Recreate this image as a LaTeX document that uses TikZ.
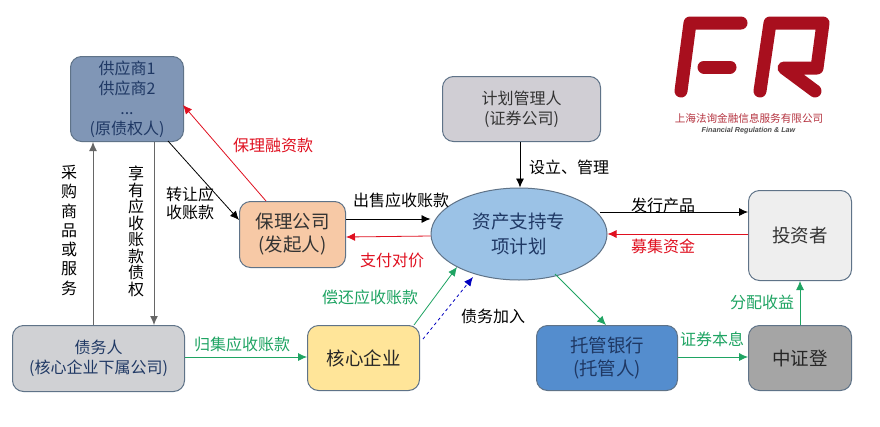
\documentclass[tikz,border=0pt]{standalone}
\usepackage{fontspec}
\setmainfont{Noto Sans CJK SC}
\newfontfamily\latinf{Liberation Sans}
\usetikzlibrary{arrows.meta,shapes.geometric}
\definecolor{frred}{HTML}{A80F1E}
\definecolor{edgeg}{HTML}{5F7388}
\definecolor{greenc}{HTML}{1FA463}
\definecolor{redc}{HTML}{E01020}
\definecolor{txtb}{HTML}{1F3864}
\tikzset{
  x=1pt,y=-1pt,
  bx/.style={draw=edgeg,line width=1pt,rounded corners=11pt,align=center,inner sep=0pt,anchor=north west},
  tl/.style={font=\fontsize{16}{18}\selectfont,inner sep=0pt,align=center},
  vla/.style={font=\fontsize{16}{19.3}\selectfont,inner sep=0pt,align=center,text width=17pt},
  vlb/.style={font=\fontsize{16}{16.5}\selectfont,inner sep=0pt,align=center,text width=17pt},
  blk/.style={-{Latex[length=9pt,width=8pt]},line width=0.8pt,black},
  gry/.style={-{Latex[length=9pt,width=8pt]},line width=1pt,black!60},
  redl/.style={-{Latex[length=9pt,width=8pt]},line width=0.8pt,redc},
  grn/.style={-{Latex[length=9pt,width=8pt]},line width=0.8pt,greenc},
  logo/.style={draw=frred,line width=13pt,line cap=round,line join=round}
}
\begin{document}
\begin{tikzpicture}
\useasboundingbox (0,0) rectangle (880,426);
\fill[white] (0,0) rectangle (880,426);
% nodes
\node[bx,minimum width=113pt,minimum height=85pt,fill={rgb,255:red,128;green,150;blue,182},text=txtb,font=\fontsize{16}{20}\selectfont] (gys) at (70,56) {供应商1\\供应商2\\...\\(原债权人)};
\node[bx,minimum width=106pt,minimum height=66pt,fill={rgb,255:red,247;green,201;blue,166},text=black!80,font=\fontsize{18.5}{23}\selectfont] (bl) at (239,201) {保理公司\\(发起人)};
\node[draw=edgeg,line width=1pt,ellipse,minimum width=176pt,minimum height=92pt,inner sep=0pt,align=center,fill={rgb,255:red,155;green,194;blue,230},text=txtb,font=\fontsize{18.5}{25}\selectfont] (zc) at (519,234) {资产支持专\\项计划};
\node[bx,minimum width=158pt,minimum height=65pt,fill={rgb,255:red,208;green,206;blue,212},text=black!80,font=\fontsize{16}{20}\selectfont] (jh) at (442,76) {计划管理人\\(证券公司)};
\node[bx,minimum width=103pt,minimum height=90pt,fill={rgb,255:red,238;green,238;blue,238},text=black!80,font=\fontsize{18.5}{23}\selectfont] (tz) at (748,190) {投资者};
\node[bx,minimum width=172pt,minimum height=66pt,fill={rgb,255:red,208;green,209;blue,212},text=txtb,font=\fontsize{16}{20}\selectfont] (zw) at (12,325) {债务人\\(核心企业下属公司)};
\node[bx,minimum width=112pt,minimum height=65pt,fill={rgb,255:red,255;green,229;blue,153},text=black!85,font=\fontsize{18.5}{23}\selectfont] (hx) at (307,325) {核心企业};
\node[bx,minimum width=141pt,minimum height=65pt,fill={rgb,255:red,84;green,141;blue,206},text=txtb,font=\fontsize{18.5}{23}\selectfont] (tg) at (536,325) {托管银行\\(托管人)};
\node[bx,minimum width=103pt,minimum height=65pt,fill={rgb,255:red,165;green,165;blue,165},text=black!85,font=\fontsize{18.5}{23}\selectfont] (zz) at (748,325) {中证登};
% connectors
\draw[gry] (zw.north -| 93,0) -- (gys.south -| 93,0);
\draw[gry] (gys.south -| 154,0) -- (zw.north -| 154,0);
\draw[blk] (168,141) -- (bl.west |- 0,220);
\draw[redl] (bl.north -| 266,0) -- (183,105);
\draw[blk] (bl.east |- 0,219) -- (zc.west |- 0,219);
\draw[redl] (zc.west |- 0,236) -- (bl.east |- 0,237);
\draw[blk] (jh.south -| 520,0) -- (zc.north -| 520,0);
\draw[blk] (600,212) -- (tz.west |- 0,212);
\draw[redl] (tz.west |- 0,234) -- (zc.east |- 0,234);
\draw[grn] (zw.east |- 0,357) -- (hx.west |- 0,357);
\draw[grn] (hx.north -| 414,0) -- (457,267);
\draw[-{Latex[length=9pt,width=8pt]},line width=0.8pt,dashed,blue!75!black] (423,339) -- (473,277);
\draw[grn] (555,274) -- (tg.north -| 606,0);
\draw[grn] (tg.east |- 0,357) -- (zz.west |- 0,357);
\draw[grn] (zz.north -| 800,0) -- (tz.south -| 800,0);
% labels
\node[vla,anchor=north] (l1) at (69,165) {采\\购\\商\\品\\或\\服\\务};
\node[vlb,anchor=north] (l2) at (136,166) {享\\有\\应\\收\\账\\款\\债\\权};
\node[tl,anchor=north west] (l3) at (166,187) {转让应\\收账款};
\node[tl,text=redc] (l4) at (273,145) {保理融资款};
\node[tl] (l5) at (401,200) {出售应收账款};
\node[tl,text=redc] (l6) at (392,260) {支付对价};
\node[tl] (l7) at (569,167) {设立、管理};
\node[tl] (l8) at (663,205) {发行产品};
\node[tl,text=redc] (l9) at (663,246) {募集资金};
\node[tl,text=greenc] (l10) at (242,344) {归集应收账款};
\node[tl,text=greenc] (l11) at (370,297) {偿还应收账款};
\node[tl] (l12) at (493,316) {债务加入};
\node[tl,text=greenc] (l13) at (712,339) {证券本息};
\node[tl,text=greenc] (l14) at (762,302) {分配收益};
% logo
\draw[logo] (681,91) -- (690,23) -- (741,23);
\draw[logo] (704,67) -- (730,67);
\draw[logo] (760,91) -- (770,23) -- (823,23) -- (817,68) -- (784,68) -- (815,91);
\node[inner sep=0pt,text=frred!85,font=\fontsize{10.6}{12}\selectfont] (lg1) at (749,118) {上海法询金融信息服务有限公司};
\node[inner sep=0pt,text=black!70,font=\latinf\itshape\bfseries\fontsize{7.2}{8}\selectfont] (lg2) at (748.5,131) {Financial Regulation \& Law};
\end{tikzpicture}
\end{document}
